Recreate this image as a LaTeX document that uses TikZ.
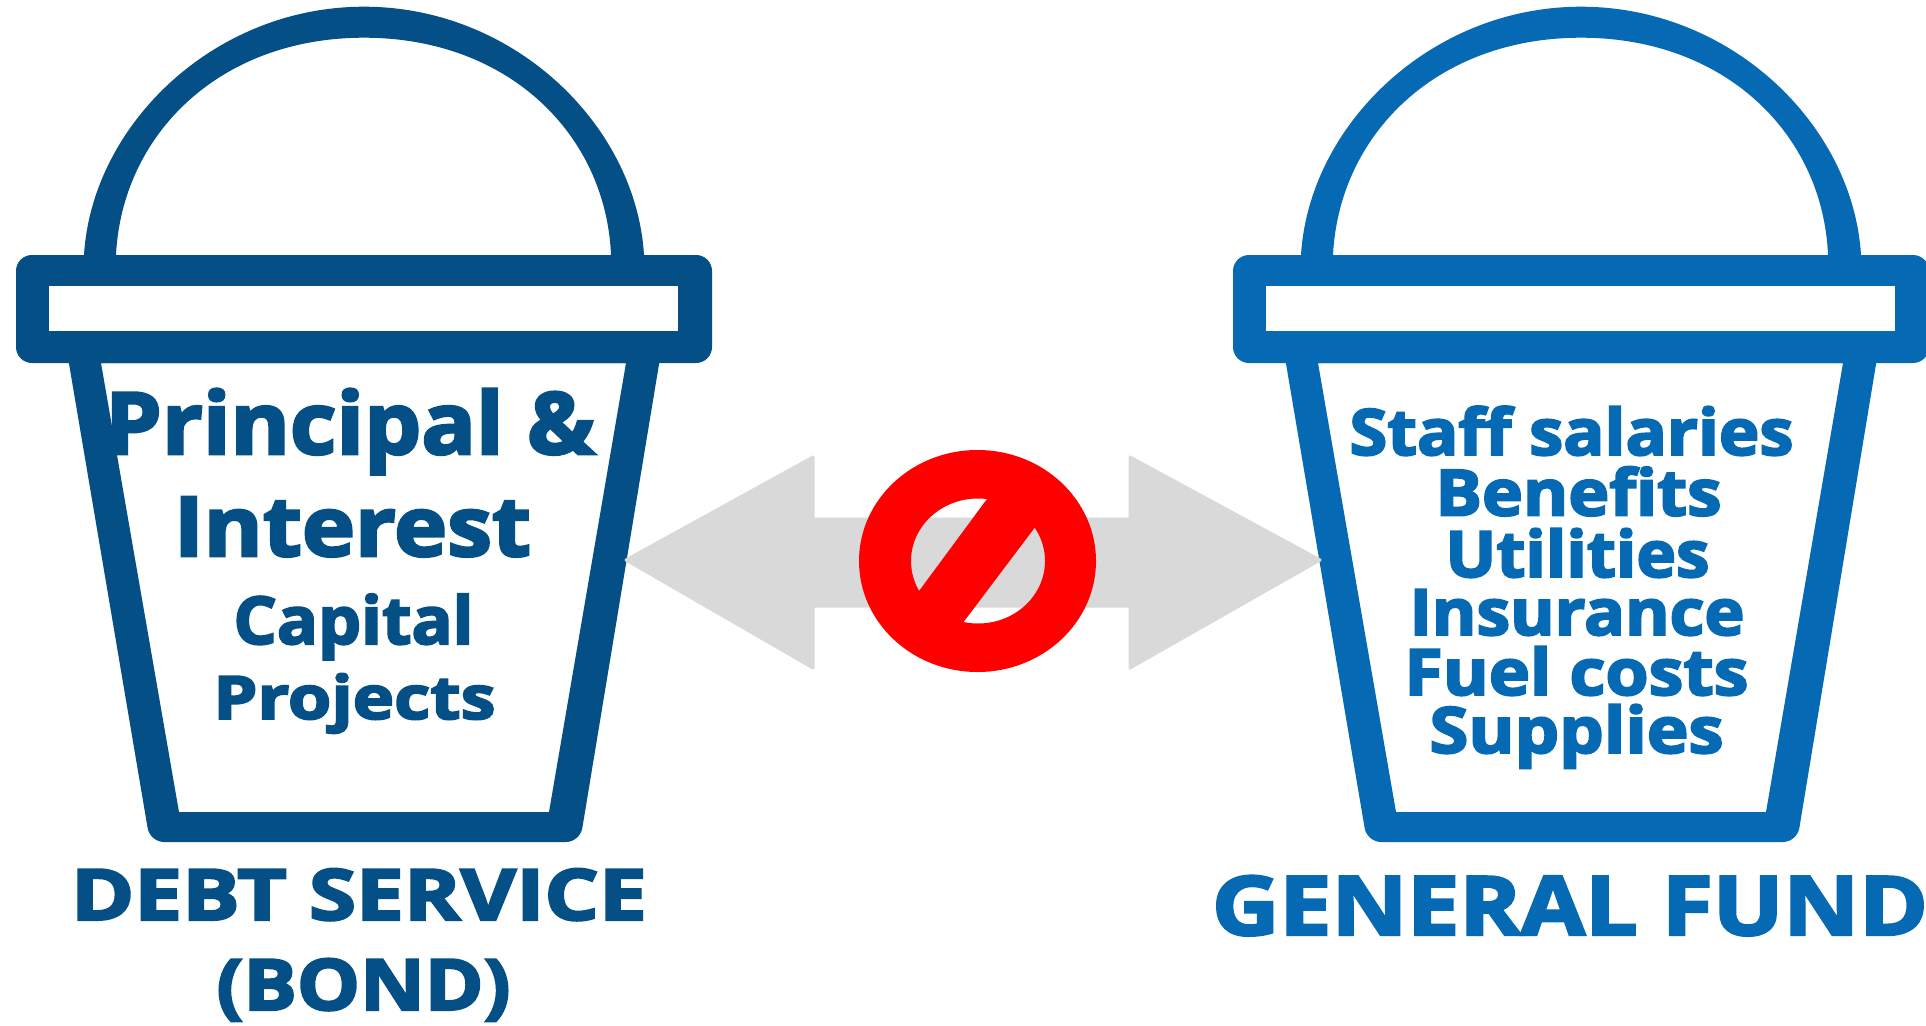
\documentclass[tikz,border=0pt]{standalone}
\usepackage{fontspec}
\setmainfont{Open Sans}[BoldFeatures={FakeBold=3}]
\definecolor{debtblue}{HTML}{044F85}
\definecolor{fundblue}{HTML}{0569B4}
\definecolor{arrowgray}{HTML}{D9D9D9}
\definecolor{stopred}{HTML}{FF0000}
\tikzset{
  bucketink/.style={fill=#1,draw=none,even odd rule},
  label/.style={inner sep=0pt,anchor=base},
  arrowshape/.style={fill=arrowgray,draw=arrowgray,line width=3pt,line join=round},
}
\newcommand{\bucket}[2]{%
\begin{scope}[xshift=#1pt]
  \fill[bucketink=#2]
    (-280,255) .. controls (-272,125) and (-150,6.7) .. (0,6.7)
      .. controls (150,6.7) and (272,125) .. (280,255) --
    (247,255) .. controls (242,135) and (145,37.7) .. (0,37.7)
      .. controls (-145,37.7) and (-242,135) .. (-248,255) -- cycle;
  \fill[bucketink=#2,rounded corners=16pt] (-348,255) rectangle (348,363);
  \fill[white] (-315,286) rectangle (314,331);
  \fill[bucketink=#2]
    (-299,340) [rounded corners=14pt] -- (-214,842) -- (216,842) [sharp corners] -- (299,340) -- cycle
    (-263,363) -- (-185,812) -- (185,812) -- (262,363) -- cycle;
\end{scope}}
\newsavebox{\lblbox}
\newcommand{\lblfit}[3]{%
  \sbox{\lblbox}{\fontsize{#1pt}{#1pt}\selectfont\bfseries #3}%
  \pgfmathsetmacro{\lblratio}{#2/\wd\lblbox}%
  \scalebox{\lblratio}[1]{\usebox{\lblbox}}}
\newcommand{\lbl}[7]{\node[label,text=#1] (#2) at (#3,#4) {\lblfit{#5}{#6}{#7}};}
\begin{document}
\begin{tikzpicture}[x=1pt,y=-1pt]
\useasboundingbox (0,0) rectangle (1926,1025);
\fill[white] (0,0) rectangle (1926,1025);
\bucket{364}{debtblue}
\bucket{1581}{fundblue}
% double arrow
\fill[arrowshape]
  (626,560) -- (813,457) -- (813,519) -- (1130,519) -- (1130,457) -- (1320,560)
  -- (1130,668) -- (1130,606) -- (813,606) -- (813,668) -- cycle;
% prohibition sign
\fill[stopred,even odd rule]
  (977.5,561) ellipse [x radius=118.5,y radius=111]
  (978,561) ellipse [x radius=67,y radius=62.5];
\fill[stopred] (1001,480) -- (1048,510) -- (950,640) -- (905,610) -- cycle;
% texts
\lbl{debtblue}{t1}{350}{454}{86}{490}{Principal \&}
\lbl{debtblue}{t2}{352.5}{556}{83}{357}{Interest}
\lbl{debtblue}{t3}{353.5}{644}{66}{240}{Capital}
\lbl{debtblue}{t4}{354.5}{719}{60}{282}{Projects}
\lbl{debtblue}{t5}{359}{920}{71}{576}{DEBT SERVICE}
\lbl{debtblue}{t6}{363.5}{1010}{71}{294}{(BOND)}
\lbl{fundblue}{a1}{1571.5}{455}{64}{444}{Staff salaries}
\lbl{fundblue}{a2}{1578.5}{515.5}{64}{286}{Benefits}
\lbl{fundblue}{a3}{1577.5}{577}{64}{264}{Utilities}
\lbl{fundblue}{a4}{1577}{635}{64}{335}{Insurance}
\lbl{fundblue}{a5}{1576.5}{695}{64}{344}{Fuel costs}
\lbl{fundblue}{a6}{1576.5}{753}{64}{294}{Supplies}
\lbl{fundblue}{a7}{1570}{935}{82}{716}{GENERAL FUND}
\end{tikzpicture}
\end{document}
